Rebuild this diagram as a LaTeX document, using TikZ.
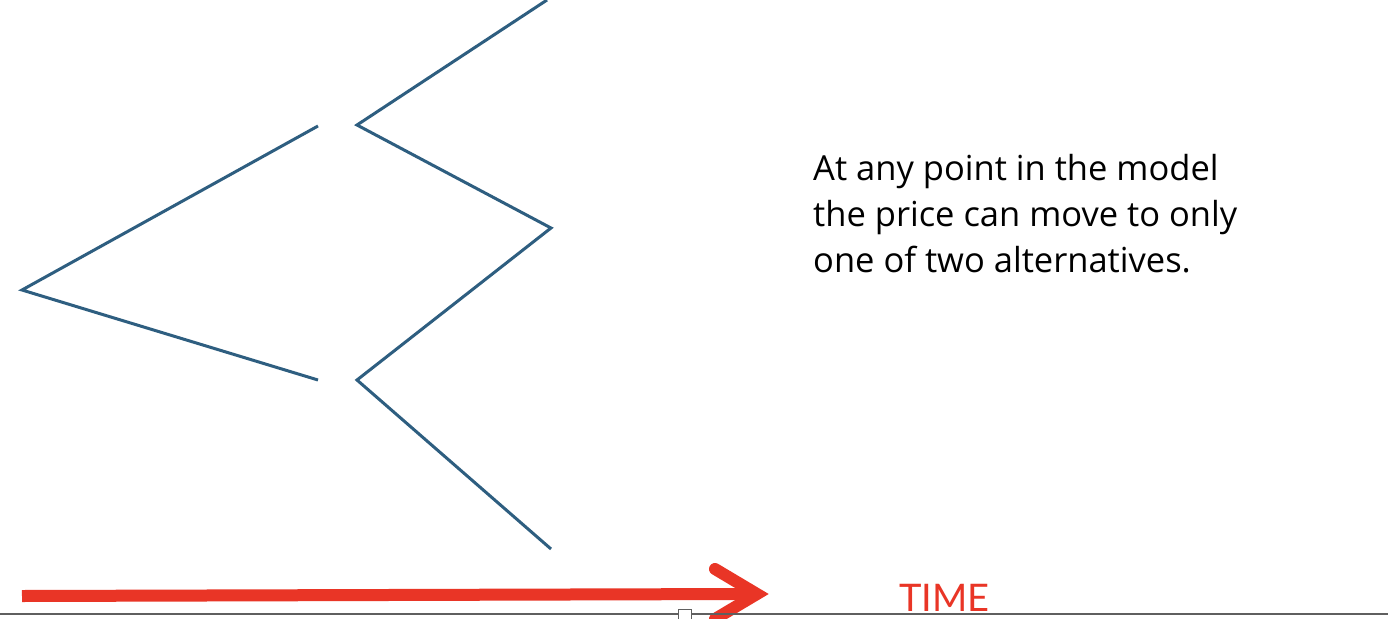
\documentclass[tikz,border=0pt]{standalone}
\usepackage{fontspec}
\setmainfont{Open Sans}
\newfontfamily\timefont{Lato}
\definecolor{treeblue}{RGB}{46,94,128}
\definecolor{arrowred}{RGB}{233,53,38}
\definecolor{rulegrey}{RGB}{95,95,95}
\begin{document}
\begin{tikzpicture}[x=1pt,y=-1pt,
  branch/.style={draw=treeblue,line width=3pt},
  redline/.style={draw=arrowred,line width=12pt},
  pt/.style={inner sep=0pt,minimum size=0pt}]
\useasboundingbox (0,0) rectangle (1388,618);
\clip (0,0) rectangle (1388,618);
\fill[white] (0,0) rectangle (1388,618);
% tree points
\coordinate (a) at (22,290);
\coordinate (b1) at (318,126);
\coordinate (b2) at (318,380);
\coordinate (c1) at (357,125);
\coordinate (c2) at (357,380);
\coordinate (d1) at (547,0);
\coordinate (d2) at (551,228);
\coordinate (d3) at (551,549);
\draw[branch] (b1) -- (a) -- (b2);
\draw[branch] (d1) -- (c1) -- (d2) -- (c2) -- (d3);
% time arrow
\coordinate (s) at (22,596);
\coordinate (tip) at (757,594);
\coordinate (h1) at (715,569);
\coordinate (h2) at (715,619);
\draw[redline] (s) -- ([xshift=-8pt]tip);
\draw[redline,line cap=round,line join=miter] (h1) -- (tip) -- (h2);
% bottom rule
\coordinate (r1) at (0,614);
\coordinate (r2) at (1388,614);
\draw[rulegrey,line width=2pt] (r1) -- (r2);
\draw[rulegrey,fill=white,line width=1pt] (678,609) rectangle (691,620);
% labels
\node[pt,anchor=base west,text=arrowred,font=\timefont\fontsize{38}{38}\selectfont] (time) at (899,611) {TIME};
\node[pt,anchor=base west,align=left,font=\fontsize{34.5}{46}\selectfont] (txt) at (813,272)
  {At any point in the model\\the price can move to only\\one of two alternatives.};
\end{tikzpicture}
\end{document}
